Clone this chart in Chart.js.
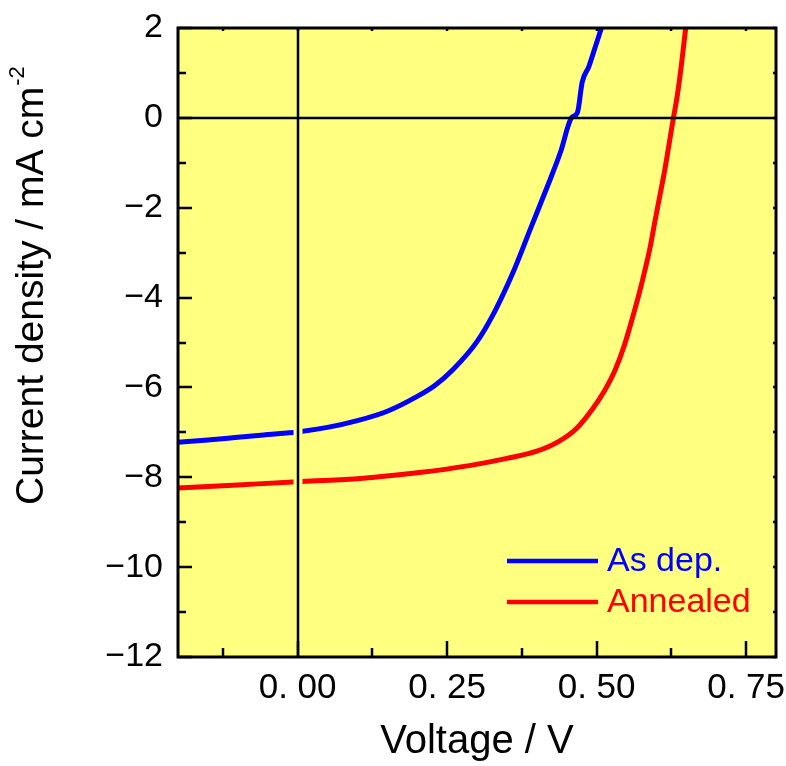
<!DOCTYPE html>
<html>
<head>
<meta charset="utf-8">
<script src="https://cdn.jsdelivr.net/npm/chart.js@4.4.1/dist/chart.umd.min.js"></script>
<style>
  html, body { margin: 0; padding: 0; background: #fff; }
  #wrap { width: 786px; height: 766px; }
</style>
</head>
<body>
<div id="wrap"><canvas id="jv" width="786" height="766"></canvas></div>
<script>
// J-V curves
const seriesNames = ['As dep.', 'Annealed'];
const seriesColors = ['#0000ff', '#ff0000'];

const voltageAsDep = [-0.2, -0.15, -0.1, -0.05, 0, 0.05, 0.1, 0.15, 0.2, 0.23, 0.26, 0.3, 0.33, 0.36, 0.39, 0.42, 0.44, 0.458, 0.468, 0.476, 0.487, 0.498, 0.508];
const currentAsDep = [-7.22, -7.17, -7.11, -7.05, -6.99, -6.89, -6.74, -6.53, -6.2, -5.95, -5.6, -4.98, -4.3, -3.45, -2.45, -1.45, -0.75, 0.0, 0.12, 0.8, 1.14, 1.59, 2.0];

const voltageAnnealed = [-0.2, -0.1, 0, 0.1, 0.2, 0.287, 0.35, 0.4, 0.437, 0.465, 0.492, 0.512, 0.531, 0.546, 0.559, 0.571, 0.581, 0.59, 0.598, 0.606, 0.614, 0.621, 0.628, 0.635, 0.642, 0.649];
const currentAnnealed = [-8.24, -8.17, -8.1, -8.03, -7.9, -7.74, -7.58, -7.42, -7.2, -6.93, -6.5, -6.1, -5.61, -5.08, -4.5, -3.92, -3.38, -2.85, -2.27, -1.72, -1.16, -0.6, -0.04, 0.5, 1.2, 2.0];

// axis ticks
const xTickValues = [-0.125, 0, 0.125, 0.25, 0.375, 0.5, 0.625, 0.75];
const xMajorTicks = [0, 0.25, 0.5, 0.75];
const xTickLabels = ['0. 00', '0. 25', '0. 50', '0. 75'];
const yTickValues = [-12, -11, -10, -9, -8, -7, -6, -5, -4, -3, -2, -1, 0, 1, 2];
const yMajorTicks = [-12, -10, -8, -6, -4, -2, 0, 2];
const yTickLabels = ['\u221212', '\u221210', '\u22128', '\u22126', '\u22124', '\u22122', '0', '2'];

const FONT = "'Liberation Sans', Arial, sans-serif";

const toPoints = (xs, ys) => xs.map((x, i) => ({ x, y: ys[i] }));

// yellow plot background, zero lines, frame, inward ticks, legend, y title
const framePlugin = {
  id: 'frame',
  beforeDatasetsDraw(chart) {
    const { ctx, chartArea: a } = chart;
    ctx.save();
    ctx.fillStyle = '#ffff80';
    ctx.fillRect(a.left, a.top, a.right - a.left, a.bottom - a.top);
    ctx.restore();
  },
  afterDatasetsDraw(chart) {
    const { ctx, chartArea: a, scales: { x, y } } = chart;
    ctx.save();
    const x0 = Math.round(x.getPixelForValue(0));
    const y0 = Math.round(y.getPixelForValue(0));
    // vertical zero line cuts the curves
    ctx.strokeStyle = '#ffff80';
    ctx.lineWidth = 9;
    ctx.beginPath(); ctx.moveTo(x0, a.top + 2); ctx.lineTo(x0, a.bottom - 2); ctx.stroke();
    ctx.strokeStyle = '#000';
    ctx.lineWidth = 2.5;
    ctx.beginPath(); ctx.moveTo(x0, a.top); ctx.lineTo(x0, a.bottom); ctx.stroke();
    ctx.beginPath(); ctx.moveTo(a.left, y0); ctx.lineTo(a.right, y0); ctx.stroke();
    ctx.lineWidth = 3;
    ctx.strokeRect(a.left, a.top, a.right - a.left, a.bottom - a.top);

    // ticks (inside)
    ctx.lineWidth = 2.5;
    ctx.beginPath();
    xTickValues.forEach(v => {
      const px = Math.round(x.getPixelForValue(v));
      const major = xMajorTicks.includes(v);
      ctx.moveTo(px, a.bottom); ctx.lineTo(px, a.bottom - (major ? 16 : 9));
      ctx.moveTo(px, a.top); ctx.lineTo(px, a.top + 3);
    });
    yTickValues.forEach(v => {
      const py = Math.round(y.getPixelForValue(v));
      const major = yMajorTicks.includes(v);
      ctx.moveTo(a.left, py); ctx.lineTo(a.left + (major ? 14 : 8), py);
      ctx.moveTo(a.right, py); ctx.lineTo(a.right - 3, py);
    });
    ctx.stroke();

    // legend inside plot, bottom right
    chart.data.datasets.forEach((ds, i) => {
      const ly = a.bottom - 96 + i * 41;
      ctx.strokeStyle = ds.borderColor;
      ctx.lineWidth = 4.5;
      ctx.beginPath(); ctx.moveTo(a.right - 269, ly); ctx.lineTo(a.right - 178, ly); ctx.stroke();
      ctx.fillStyle = ds.borderColor;
      ctx.font = '34px ' + FONT;
      ctx.textAlign = 'left';
      ctx.textBaseline = 'middle';
      ctx.fillText(ds.label, a.right - 169, ly + 1);
    });

    // y title with superscript
    ctx.translate(43, 505);
    ctx.rotate(-Math.PI / 2);
    ctx.fillStyle = '#000';
    ctx.textAlign = 'left';
    ctx.textBaseline = 'alphabetic';
    ctx.font = '39px ' + FONT;
    const main = 'Current density / mA cm';
    ctx.fillText(main, 0, 0);
    const w = ctx.measureText(main).width;
    ctx.font = '22px ' + FONT;
    ctx.fillText('-2', w + 1, -19);
    ctx.restore();
  }
};

new Chart(document.getElementById('jv'), {
  type: 'scatter',
  data: {
    datasets: [
      {
        label: seriesNames[0],
        data: toPoints(voltageAsDep, currentAsDep),
        borderColor: seriesColors[0],
        backgroundColor: seriesColors[0],
      },
      {
        label: seriesNames[1],
        data: toPoints(voltageAnnealed, currentAnnealed),
        borderColor: seriesColors[1],
        backgroundColor: seriesColors[1],
      }
    ].map(d => Object.assign(d, {
      showLine: true,
      borderWidth: 5,
      pointRadius: 0,
      cubicInterpolationMode: 'monotone',
      clip: 0
    }))
  },
  options: {
    responsive: false,
    animation: false,
    layout: { padding: { top: 28, right: 10, left: 0, bottom: 0 } },
    plugins: {
      legend: { display: false },
      tooltip: { enabled: false }
    },
    scales: {
      x: {
        type: 'linear',
        min: -0.2,
        max: 0.8,
        afterBuildTicks: s => { s.ticks = xTickValues.map(v => ({ value: v })); },
        afterFit: s => { s.height = 109; s.paddingLeft = 0; s.paddingRight = 0; },
        grid: { display: false, drawTicks: false },
        border: { display: false },
        ticks: {
          autoSkip: false,
          maxRotation: 0,
          padding: 10,
          color: '#000',
          font: { family: FONT, size: 35 },
          callback: v => {
            const k = xMajorTicks.indexOf(v);
            return k >= 0 ? xTickLabels[k] : '';
          }
        },
        title: {
          display: true,
          text: 'Voltage / V',
          color: '#000',
          font: { family: FONT, size: 40 },
          padding: 0
        }
      },
      y: {
        type: 'linear',
        min: -12,
        max: 2,
        afterBuildTicks: s => { s.ticks = yTickValues.map(v => ({ value: v })); },
        afterFit: s => { s.width = 178; s.paddingTop = 0; s.paddingBottom = 0; },
        grid: { display: false, drawTicks: false },
        border: { display: false },
        ticks: {
          autoSkip: false,
          padding: 15,
          color: '#000',
          font: { family: FONT, size: 34 },
          callback: v => {
            const k = yMajorTicks.indexOf(v);
            return k >= 0 ? yTickLabels[k] : '';
          }
        }
      }
    }
  },
  plugins: [framePlugin]
});
</script>
</body>
</html>
